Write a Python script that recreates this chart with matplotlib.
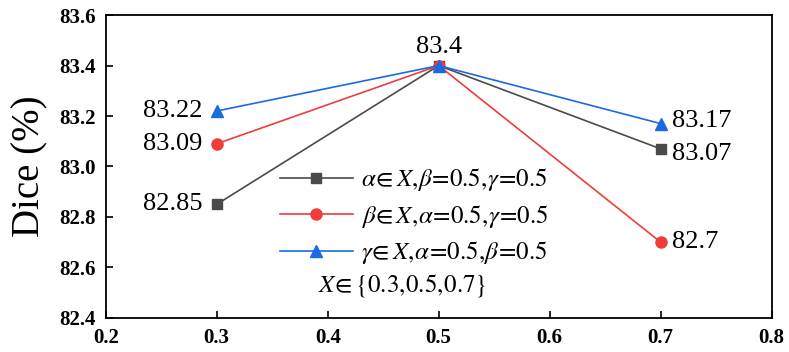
import matplotlib.pyplot as plt
import numpy as np

plt.rcParams['font.family'] = 'Liberation Serif'
plt.rcParams['mathtext.fontset'] = 'stix'

x = [0.3, 0.5, 0.7]
alpha_vals = [82.85, 83.4, 83.07]
beta_vals = [83.09, 83.4, 82.7]
gamma_vals = [83.22, 83.4, 83.17]

labels = [r'$\alpha\!\in X,\!\beta\!=\!0.5,\!\gamma\!=\!0.5$',
          r'$\beta\!\in X,\!\alpha\!=\!0.5,\!\gamma\!=\!0.5$',
          r'$\gamma\!\in X,\!\alpha\!=\!0.5,\!\beta\!=\!0.5$']

fig = plt.figure(figsize=(7.89, 3.52), dpi=100)
ax = fig.add_axes([0.134, 0.097, 0.844, 0.860])

ax.plot(x, alpha_vals, color='#4a4a4a', marker='s', markersize=7, lw=1.2, label=labels[0])
ax.plot(x, beta_vals, color='#f03c3c', marker='o', markersize=8, lw=1.2, label=labels[1])
ax.plot(x, gamma_vals, color='#1a6be0', marker='^', markersize=8, lw=1.2, label=labels[2])

ax.set_xlim(0.2, 0.8)
ax.set_ylim(82.4, 83.6)
ax.set_xticks(np.arange(0.2, 0.81, 0.1))
ax.set_yticks(np.arange(82.4, 83.61, 0.2))
ax.set_xticklabels(['%.1f' % v for v in np.arange(0.2, 0.81, 0.1)], fontweight='bold', fontsize=15)
ax.set_yticklabels(['%.1f' % v for v in np.arange(82.4, 83.61, 0.2)], fontweight='bold', fontsize=15)
ax.tick_params(direction='in', length=5, width=1.2, pad=7)
for s in ax.spines.values():
    s.set_linewidth(1.3)

ax.set_ylabel('Dice (%)', fontsize=28, labelpad=8)

# value labels
fs = 19
ax.text(x[0] - 0.013, gamma_vals[0], '83.22', ha='right', va='center', fontsize=fs)
ax.text(x[0] - 0.013, beta_vals[0], '83.09', ha='right', va='center', fontsize=fs)
ax.text(x[0] - 0.013, alpha_vals[0], '82.85', ha='right', va='center', fontsize=fs)
ax.text(x[1], alpha_vals[1] + 0.03, '83.4', ha='center', va='bottom', fontsize=fs)
ax.text(x[2] + 0.01, gamma_vals[2] + 0.01, '83.17', ha='left', va='center', fontsize=fs)
ax.text(x[2] + 0.01, alpha_vals[2] - 0.02, '83.07', ha='left', va='center', fontsize=fs)
ax.text(x[2] + 0.01, beta_vals[2], '82.7', ha='left', va='center', fontsize=fs)

leg = ax.legend(loc='upper left', bbox_to_anchor=(0.228, 0.575), frameon=False,
                fontsize=18, handlelength=2.9, handletextpad=0.35, labelspacing=0.38)
ax.text(0.3915, 82.53, r'$X\!\in\{0.3,\!0.5,\!0.7\}$', fontsize=18, ha='left', va='center')

fig.savefig('out.png', dpi=100)
